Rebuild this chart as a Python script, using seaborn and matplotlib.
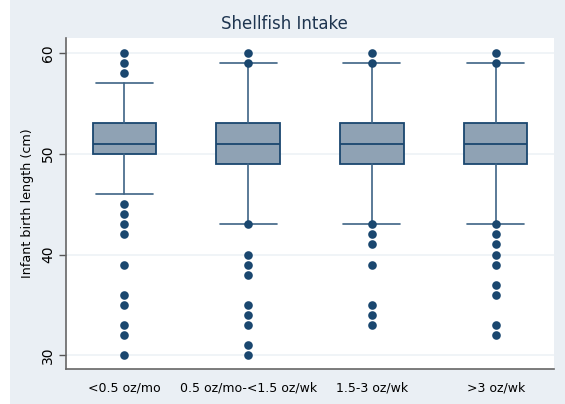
import matplotlib
matplotlib.use("Agg")
import matplotlib.pyplot as plt
from matplotlib.patches import Rectangle
import seaborn as sns
import pandas as pd

categories = ["<0.5 oz/mo", "0.5 oz/mo-<1.5 oz/wk", "1.5-3 oz/wk", ">3 oz/wk"]
whisker_low = [46, 43, 43, 43]
q1 = [50, 49, 49, 49]
median = [51, 51, 51, 51]
q3 = [53, 53, 53, 53]
whisker_high = [57, 59, 59, 59]
outliers = [
    [60, 59, 58, 45, 44, 43, 42, 39, 36, 35, 33, 32, 30],
    [60, 59, 43, 40, 39, 38, 35, 34, 33, 31, 30],
    [60, 59, 43, 42, 41, 39, 35, 34, 33],
    [60, 59, 43, 42, 41, 40, 39, 37, 36, 33, 32],
]
yticks = [30, 40, 50, 60]

navy = "#1A476F"
bg = "#EAEFF4"

sns.set_style("white")
plt.rcParams["font.family"] = ["DejaVu Sans"]

fig = plt.figure(figsize=(5.65, 4.04), dpi=100, facecolor=bg)
fig.patches.append(Rectangle((0, 0), 10 / 565, 1, transform=fig.transFigure,
                             facecolor="white", edgecolor="none", zorder=-1))
ax = fig.add_axes([66 / 565, 1 - 369 / 404, (554 - 66) / 565, (369 - 38) / 404])
ax.set_facecolor("white")

rows = [(categories[i], v) for i in range(len(categories)) for v in outliers[i]]
df = pd.DataFrame(rows, columns=["cat", "val"])
sns.stripplot(data=df, x="cat", y="val", order=categories, jitter=False,
              color=navy, size=6.2, linewidth=0, ax=ax, zorder=4)

stats = []
for i in range(len(categories)):
    stats.append(dict(med=median[i], q1=q1[i], q3=q3[i],
                      whislo=whisker_low[i], whishi=whisker_high[i], fliers=[]))
ax.bxp(stats, positions=list(range(len(categories))), widths=0.51,
       showfliers=False, patch_artist=True, manage_ticks=False,
       boxprops=dict(facecolor="#8FA2B4", edgecolor=navy, linewidth=1.3),
       medianprops=dict(color=navy, linewidth=1.3),
       whiskerprops=dict(color="#3E6385", linewidth=1.2),
       capprops=dict(color="#3E6385", linewidth=1.2), capwidths=0.46,
       zorder=3)

ax.set_xlim(-0.47, 3.47)
ax.set_ylim(28.66, 61.46)
ax.set_yticks(yticks)
ax.set_yticklabels([str(t) for t in yticks], rotation=90, va="center",
                   fontsize=10, color="black")
ax.set_xticks(range(len(categories)))
ax.set_xticklabels(categories, fontsize=9, color="black")
ax.tick_params(axis="x", length=0, pad=9)
ax.tick_params(axis="y", length=5, width=1, color="#555555", pad=3, left=True)
ax.grid(axis="y", color="#EEF2F6", linewidth=1.2, zorder=0)
ax.set_axisbelow(True)
for s in ["top", "right"]:
    ax.spines[s].set_visible(False)
for s in ["left", "bottom"]:
    ax.spines[s].set_color("#666666")
    ax.spines[s].set_linewidth(1.2)
ax.set_xlabel("")
ax.set_ylabel("Infant birth length (cm)", fontsize=9.2, color="black", labelpad=5)
fig.text(284 / 565, 1 - 24 / 404, "Shellfish Intake", ha="center", va="center",
         fontsize=12, color="#1E3550")

fig.savefig("out.png", dpi=100, facecolor=bg)
